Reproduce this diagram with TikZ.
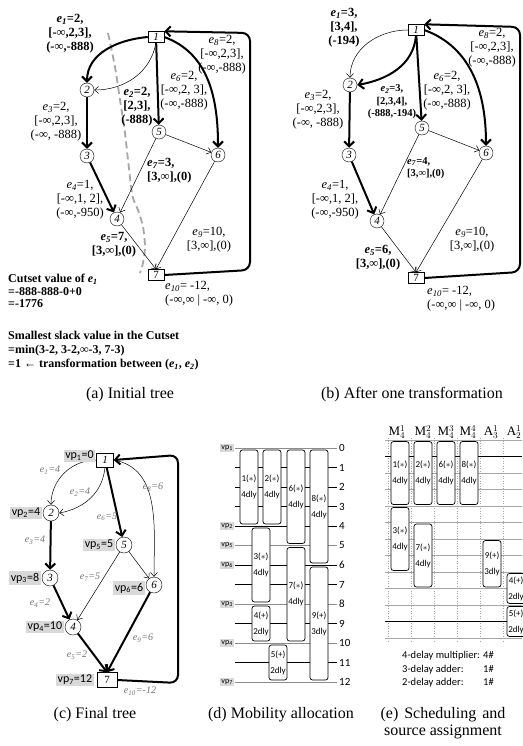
\documentclass[tikz,border=0pt]{standalone}
\usepackage{fontspec}
\setmainfont{Liberation Serif}
\newfontfamily\calibri{Carlito}
\usetikzlibrary{arrows.meta, positioning}
\newcommand{\ee}[1]{\textit{e}\textsubscript{\textit{#1}}}
\newcommand{\vp}[1]{vp\textsubscript{#1}}
\newcommand{\mul}{$\ast$}

\begin{document}
\begin{tikzpicture}[
    x=1pt, y=1pt,
    cnode/.style={circle, draw, fill=white, minimum size=14pt, inner sep=0pt, font=\fontsize{11}{11}\selectfont\itshape},
    bnode/.style={rectangle, draw, fill=white, minimum width=16pt, minimum height=11pt, inner sep=0pt, font=\fontsize{11}{11}\selectfont},
    thinarr/.style={line width=0.5pt, -{Straight Barb[length=4pt,width=7pt]}},
    boldarr/.style={line width=2pt, -{Straight Barb[length=5pt,width=10pt]}},
    cutline/.style={line width=1.8pt, black!35, dash pattern=on 7pt off 4pt},
    lab/.style={align=center, inner sep=0pt, font=\fontsize{12.5}{14}\selectfont},
    blab/.style={lab, font=\fontsize{12.5}{14}\selectfont\bfseries},
    sblab/.style={lab, font=\fontsize{10.5}{12.5}\selectfont\bfseries},
    clab/.style={inner sep=0pt, text=black!55, font=\fontsize{10}{10}\selectfont\itshape},
    vpc/.style={fill=black!15, inner sep=1.5pt, font=\calibri\fontsize{12}{12}\selectfont},
    vpd/.style={fill=black!15, inner sep=1pt, font=\calibri\fontsize{8}{8}\selectfont},
    opbox/.style={draw, rounded corners=2.5pt, fill=white, line width=0.7pt, minimum width=18pt, inner sep=0pt, align=center, font=\calibri\fontsize{9}{16}\selectfont},
    captxt/.style={font=\fontsize{16}{17}\selectfont, align=center}
]
\useasboundingbox (0,0) rectangle (522,-746);
\fill[white] (0,0) rectangle (522,-746);

% (a) Initial tree
\draw[cutline] plot[smooth] coordinates {(108,-33) (115,-67) (120,-100) (125,-133) (132,-193) (138,-210) (143,-227) (145,-247) (143,-263) (140,-273)};
\node[bnode, font=\fontsize{11}{11}\selectfont\itshape] (a1) at (156,-37) {1};
\node[cnode] (a2) at (87,-90) {2};
\node[cnode] (a3) at (87,-156) {3};
\node[cnode] (a5) at (159,-132) {5};
\node[cnode] (a6) at (218,-155) {6};
\node[cnode] (a4) at (117,-219) {4};
\node[bnode] (a7) at (156,-275) {7};

\draw[boldarr] (a1.west) to[out=185,in=90] (a2.north);
\draw[thinarr] (a1.south) to[out=-100,in=0] (a2.east);
\draw[boldarr] (a2) -- (a3);
\draw[boldarr] (a3) -- (a4);
\draw[boldarr] (a1) -- (a5);
\draw[boldarr] (a1.east) to[out=-20,in=90] (a6.north);
\draw[thinarr] (a5) -- (a6);
\draw[thinarr] (a5) -- (a4);
\draw[thinarr] (a4) -- (a7.north);
\draw[thinarr] (a6) -- (a7.north);
\draw[boldarr, rounded corners=8pt] (a7.east) -- (250,-270) -- (250,-33) -- (a1.north east);

\node[blab] (la1) at (70,-34) {\ee{1}=2,\\{}[-∞,2,3],\\(-∞,-888)};
\node[lab] (la3) at (56,-122) {\ee{3}=2,\\{}[-∞,2,3],\\(-∞, -888)};
\node[blab] (la2) at (137,-107) {\ee{2}=2,\\{}[2,3],\\(-888)};
\node[lab] (la6) at (184,-91) {\ee{6}=2,\\{}[-∞,2, 3],\\(-∞,-888)};
\node[lab] (la8) at (222,-55) {\ee{8}=2,\\{}[-∞,2,3],\\(-∞,-888)};
\node[blab, align=left, anchor=west] (la7) at (147,-171) {\ee{7}=3,\\{}[3,∞],(0)};
\node[lab] (la4) at (80,-200) {\ee{4}=1,\\{}[-∞,1, 2],\\(-∞,-950)};
\node[blab] (la5) at (114,-245) {\ee{5}=7,\\{}[3,∞],(0)};
\node[lab] (la9) at (209,-240) {\ee{9}=10,\\{}[3,∞],(0)};
\node[lab, align=left, anchor=west] (la10) at (165,-294) {\ee{10}= -12,\\(-∞,∞ | -∞, 0)};

\node[anchor=west, align=left, inner sep=0pt, font=\fontsize{12}{12.5}\selectfont\bfseries] (cut1) at (8,-291) {Cutset value of \ee{1}\\=-888-888-0+0\\=-1776};
\node[anchor=west, align=left, inner sep=0pt, font=\fontsize{12}{14}\selectfont\bfseries] (cut2) at (8,-351) {Smallest slack value in the Cutset\\=min(3-2, 3-2,∞-3, 7-3)\\=1 ← transformation between (\ee{1}, \ee{2})};

% (b) After one transformation
\node[bnode, font=\fontsize{11}{11}\selectfont\itshape] (b1) at (416,-30) {1};
\node[cnode] (b2) at (350,-85) {2};
\node[cnode] (b3) at (349,-155) {3};
\node[cnode] (b5) at (422,-128) {5};
\node[cnode] (b6) at (486,-153) {6};
\node[cnode] (b4) at (377,-221) {4};
\node[bnode] (b7) at (416,-278) {7};

\draw[thinarr] (b1.west) to[out=180,in=90] (b2.north);
\draw[boldarr] (b1.south) to[out=-95,in=10] (b2.east);
\draw[boldarr] (b2) -- (b3);
\draw[boldarr] (b3) -- (b4);
\draw[boldarr] (b1) -- (b5);
\draw[boldarr] (b1.east) to[out=-20,in=90] (b6.north);
\draw[thinarr] (b5) -- (b6);
\draw[thinarr] (b5) -- (b4);
\draw[thinarr] (b4) -- (b7.north);
\draw[thinarr] (b6) -- (b7.north);
\draw[boldarr, rounded corners=8pt] (b7.east) -- (520,-272) -- (520,-27) -- (b1.north east);

\node[blab] (lb1) at (344,-28) {\ee{1}=3,\\{}[3,4],\\(-194)};
\node[lab] (lb3) at (318,-110) {\ee{3}=2,\\{}[-∞,2,3],\\(-∞, -888)};
\node[sblab] (lb2) at (392,-102) {\ee{2}=3,\\{}[2,3,4],\\(-888,-194)};
\node[lab] (lb6) at (447,-91) {\ee{6}=2,\\{}[-∞,2, 3],\\(-∞,-888)};
\node[lab] (lb8) at (492,-48) {\ee{8}=2,\\{}[-∞,2,3],\\(-∞,-888)};
\node[sblab, align=left, anchor=west] (lb7) at (407,-168) {\ee{7}=4,\\{}[3,∞],(0)};
\node[lab] (lb4) at (335,-200) {\ee{4}=1,\\{}[-∞,1, 2],\\(-∞,-950)};
\node[blab] (lb5) at (378,-258) {\ee{5}=6,\\{}[3,∞],(0)};
\node[lab] (lb9) at (472,-240) {\ee{9}=10,\\{}[3,∞],(0)};
\node[lab, align=left, anchor=west] (lb10) at (427,-299) {\ee{10}= -12,\\(-∞,∞ | -∞, 0)};

\node[captxt] (capa) at (130,-395) {(a) Initial tree};
\node[captxt] (capb) at (412,-395) {(b) After one transformation};

% (c) Final tree
\node[bnode, minimum width=17pt, minimum height=14pt, font=\fontsize{11}{11}\selectfont\itshape] (c1) at (105,-460) {1};
\node[cnode, minimum size=16pt] (c2) at (51,-513) {2};
\node[cnode, minimum size=16pt] (c3) at (50,-578) {3};
\node[cnode, minimum size=16pt] (c5) at (124,-545) {5};
\node[cnode, minimum size=16pt] (c6) at (154,-585) {6};
\node[cnode, minimum size=16pt] (c4) at (73,-627) {4};
\node[bnode, minimum width=20pt, minimum height=15pt] (c7) at (107,-680) {7};

\draw[thinarr] (c1.west) to[out=180,in=90] (c2.north);
\draw[thinarr] (c1.south) to[out=-95,in=10] (c2.east);
\draw[boldarr] (c2) -- (c3);
\draw[boldarr] (c3) -- (c4);
\draw[boldarr] (c1) -- (c5);
\draw[thinarr] (c1.east) to[out=-10,in=90] (c6.north);
\draw[thinarr] (c5) -- (c4);
\draw[thinarr] (c5) -- (c6);
\draw[boldarr] (c4) -- (c7.north);
\draw[boldarr] (c6) -- (c7.north);
\draw[boldarr, rounded corners=8pt] (c7.east) -- (178,-683) -- (178,-455) -- (c1.east);

\node[vpc, left=1pt of c1, yshift=4pt] (vp1) {\vp{1}=0};
\node[vpc, left=1pt of c2] (vp2) {\vp{2}=4};
\node[vpc, left=1pt of c5] (vp5) {\vp{5}=5};
\node[vpc, left=1pt of c3] (vp3) {\vp{3}=8};
\node[vpc, left=1pt of c6, yshift=-3pt] (vp6) {\vp{6}=6};
\node[vpc, left=1pt of c4] (vp4) {\vp{4}=10};
\node[vpc, left=3pt of c7] (vp7) {\vp{7}=12};

\node[clab] (lc1) at (50,-470) {\ee{1}=4};
\node[clab] (lc2) at (80,-492) {\ee{2}=4};
\node[clab] (lc8) at (153,-487) {\ee{8}=6};
\node[clab] (lc6) at (107,-517) {\ee{6}=5};
\node[clab] (lc3) at (35,-540) {\ee{3}=4};
\node[clab] (lc7) at (90,-577) {\ee{7}=5};
\node[clab] (lc4) at (40,-603) {\ee{4}=2};
\node[clab] (lc9) at (143,-638) {\ee{9}=6};
\node[clab] (lc5) at (77,-655) {\ee{5}=2};
\node[clab] (lc10) at (140,-691) {\ee{10}=-12};

% (d) Mobility allocation
\foreach \k in {1,2,3,4,6,7,9,11}
  \draw[line width=0.5pt] (235,{-448-19.5*\k}) -- (337,{-448-19.5*\k});
\foreach \k in {0,5,8,10,12}
  \draw[line width=0.8pt, black!45] (235,{-448-19.5*\k}) -- (337,{-448-19.5*\k});
\foreach \k in {0,...,12}
  \node[anchor=west, inner sep=0pt, font=\calibri\fontsize{11}{11}\selectfont] (t\k) at (339,{-448-19.5*\k}) {\k};
\foreach \t/\i in {0/1,4/2,5/5,6/6,8/3,10/4,12/7}
  \node[vpd, anchor=east] (dvp\i) at (234,{-448-19.5*\t}) {\vp{\i}};
\foreach \id/\xc/\ta/\tb/\nm/\dl in {1/249/0/4/1(\mul)/4, 2/272/0/4/2(\mul)/4, 6/296/0/5/6(\mul)/4, 8/319/0/6/8(\mul)/4, 3/261/4/8/3(\mul)/4, 7/296/5/10/7(\mul)/4, 4/261/8/10/4(+)/2, 9/319/6/12/9(+)/3, 5/278/10/12/5(+)/2}
  \node[opbox, minimum height={(\tb-\ta)*19.5-4}] (d\id) at (\xc,{-448-9.75*(\ta+\tb)}) {\nm\\\dl dly};

% (e) Scheduling and resource assignment
\foreach \k in {0,...,12}
  \draw[line width=0.5pt, black!35] (385,{-440-16.5*\k}) -- (522,{-440-16.5*\k});
\foreach \xv in {388,411,434,457,480,503}
  \draw[line width=0.5pt, black!35, dotted] (\xv,-438) -- (\xv,-642);
\draw[line width=0.8pt] (385,-456.5) -- (522,-456.5);
\draw[line width=0.8pt] (385,-621.5) -- (507,-621.5);
\foreach \xc/\a/\s/\u [count=\c] in {397/M/4/1, 423/M/4/2, 446/M/4/3, 468/M/4/4, 491/A/3/1, 514/A/2/1}
  \node[inner sep=0pt, font=\fontsize{13}{13}\selectfont] (h\c) at (\xc,-432) {$\mathrm{\a}_{\s}^{\u}$};
\foreach \id/\xc/\ta/\tb/\nm/\dl in {1/400/0/4/1(\mul)/4, 2/423/0/4/2(\mul)/4, 6/446/0/4/6(\mul)/4, 8/469/0/4/8(\mul)/4, 3/400/4/8/3(\mul)/4, 7/423/5/9/7(\mul)/4, 9/492/6/9/9(+)/3, 4/516/8/10/4(+)/2, 5/516/10/12/5(+)/2}
  \node[opbox, minimum height={(\tb-\ta)*16.5-3}] (e\id) at (\xc,{-440-8.25*(\ta+\tb)}) {\nm\\\dl dly};
\node[anchor=north west, inner sep=0pt, font=\calibri\fontsize{10.5}{13.5}\selectfont] (legend) at (402,-649) {\begin{tabular}{@{}l@{ }r@{}}4-delay multiplier: & 4\#\\ 3-delay adder: & 1\#\\ 2-delay adder: & 1\#\end{tabular}};

\node[captxt] (capc) at (95,-715) {(c) Final tree};
\node[captxt] (capd) at (281,-715) {(d) Mobility allocation};
\node[captxt] (cape) at (443,-723) {(e)\hspace{6pt}Scheduling\hspace{6pt}and\\source assignment};
\end{tikzpicture}
\end{document}
